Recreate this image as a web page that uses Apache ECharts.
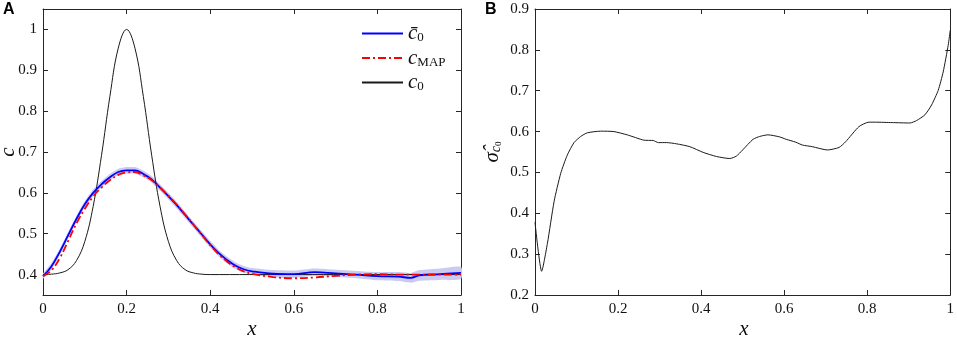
<!DOCTYPE html>
<html>
<head>
<meta charset="utf-8">
<script src="https://cdn.jsdelivr.net/npm/echarts@6/dist/echarts.min.js"></script>
<style>
  html, body {margin: 0; padding: 0; background: #fff;}
  #chart {width: 957px; height: 337px;}
</style>
</head>
<body>
<div id="chart"></div>
<script>
// panel A: shared x grid for the posterior mean, MAP and band
const xGrid = [0, 0.02, 0.04, 0.06, 0.08, 0.10, 0.12, 0.14, 0.16, 0.18, 0.20, 0.22, 0.24, 0.26, 0.28, 0.30, 0.32, 0.34, 0.36, 0.38, 0.40, 0.42, 0.44, 0.46, 0.48, 0.50, 0.55, 0.60, 0.65, 0.70, 0.75, 0.80, 0.85, 0.88, 0.90, 0.95, 1.0];
const cMean = [0.396, 0.42, 0.455, 0.496, 0.536, 0.572, 0.600, 0.621, 0.638, 0.651, 0.655, 0.655, 0.646, 0.633, 0.613, 0.592, 0.570, 0.546, 0.522, 0.498, 0.474, 0.453, 0.436, 0.422, 0.413, 0.408, 0.402, 0.401, 0.406, 0.403, 0.400, 0.396, 0.395, 0.392, 0.398, 0.401, 0.404];
const cMap = [0.396, 0.41, 0.44, 0.482, 0.525, 0.561, 0.591, 0.613, 0.631, 0.644, 0.650, 0.651, 0.643, 0.631, 0.613, 0.593, 0.571, 0.547, 0.522, 0.497, 0.472, 0.450, 0.432, 0.418, 0.408, 0.402, 0.394, 0.391, 0.393, 0.397, 0.400, 0.401, 0.400, 0.400, 0.400, 0.400, 0.400];
const bandLo = [0.390, 0.412, 0.447, 0.488, 0.528, 0.564, 0.592, 0.613, 0.630, 0.643, 0.647, 0.647, 0.638, 0.625, 0.605, 0.584, 0.562, 0.538, 0.514, 0.490, 0.466, 0.445, 0.428, 0.414, 0.405, 0.400, 0.393, 0.392, 0.397, 0.394, 0.391, 0.386, 0.384, 0.380, 0.385, 0.387, 0.389];
const bandHi = [0.402, 0.428, 0.463, 0.504, 0.544, 0.580, 0.608, 0.629, 0.646, 0.659, 0.663, 0.663, 0.654, 0.641, 0.621, 0.600, 0.578, 0.554, 0.530, 0.506, 0.482, 0.461, 0.444, 0.430, 0.421, 0.416, 0.411, 0.410, 0.415, 0.412, 0.409, 0.406, 0.406, 0.404, 0.411, 0.415, 0.419];

// panel A: true initial condition
const c0X = [0, 0.02, 0.04, 0.06, 0.08, 0.10, 0.12, 0.14, 0.16, 0.18, 0.20, 0.22, 0.24, 0.26, 0.28, 0.30, 0.32, 0.34, 0.36, 0.38, 0.40, 1.0];
const c0Y = [0.400, 0.401, 0.404, 0.412, 0.434, 0.481, 0.567, 0.692, 0.836, 0.954, 1.0, 0.954, 0.836, 0.692, 0.567, 0.481, 0.434, 0.412, 0.404, 0.401, 0.400, 0.400];

// panel B: posterior std
const sigmaX = [0, 0.016, 0.03, 0.046, 0.062, 0.078, 0.094, 0.11, 0.126, 0.158, 0.19, 0.222, 0.262, 0.285, 0.297, 0.317, 0.341, 0.373, 0.405, 0.437, 0.469, 0.485, 0.5, 0.525, 0.541, 0.561, 0.589, 0.605, 0.628, 0.644, 0.668, 0.704, 0.732, 0.748, 0.78, 0.804, 0.82, 0.86, 0.903, 0.919, 0.939, 0.955, 0.971, 0.983, 0.995, 1.0];
const sigmaY = [0.378, 0.258, 0.327, 0.429, 0.498, 0.543, 0.573, 0.588, 0.597, 0.601, 0.600, 0.592, 0.579, 0.578, 0.573, 0.573, 0.570, 0.563, 0.549, 0.539, 0.534, 0.540, 0.555, 0.581, 0.588, 0.592, 0.587, 0.581, 0.574, 0.567, 0.563, 0.555, 0.561, 0.575, 0.612, 0.623, 0.623, 0.622, 0.621, 0.627, 0.641, 0.665, 0.701, 0.746, 0.811, 0.848];

const zip = (xs, ys) => xs.map((x, i) => [x, ys[i]]);
const serif = "'Liberation Serif', serif";
const ink = '#262626';
const fmt = v => String(Math.round(v * 10) / 10);

function xAx(grid, pos) {
  return {
    type: 'value', gridIndex: grid, position: pos, min: 0, max: 1, interval: 0.2,
    axisLine: {show: true, onZero: false, lineStyle: {color: ink, width: 1}},
    axisTick: {show: true, inside: true, length: 5, lineStyle: {color: ink}},
    axisLabel: {show: pos === 'bottom', margin: 7, fontFamily: serif, fontSize: 15, color: '#111', formatter: fmt},
    splitLine: {show: false}
  };
}

function yAx(grid, pos, lo, hi, extra) {
  return Object.assign({
    type: 'value', gridIndex: grid, position: pos, min: lo, max: hi,
    axisLine: {show: true, onZero: false, lineStyle: {color: ink, width: 1}},
    axisTick: {show: true, inside: true, length: 5, lineStyle: {color: ink}},
    axisLabel: {show: pos === 'left', margin: 6, fontFamily: serif, fontSize: 15, color: '#111',
      showMinLabel: lo !== 0.35, showMaxLabel: hi !== 1.05, formatter: fmt},
    splitLine: {show: false}
  }, extra);
}

const legendRich = {
  i: {fontFamily: serif, fontStyle: 'italic', fontSize: 21, lineHeight: 22, color: '#111'},
  s: {fontFamily: serif, fontSize: 13, lineHeight: 22, verticalAlign: 'bottom', padding: [8, 0, 0, 0], color: '#111'}
};
const legendText = {
  'c0bar': '{i|c\u0304}{s|0}',
  'cMAP': '{i|c}{s|MAP}',
  'c0': '{i|c}{s|0}'
};

// posterior band drawn as one polygon through the axis scales
function renderBand(params, api) {
  const top = xGrid.map((x, i) => api.coord([x, bandHi[i]]));
  const bottom = xGrid.map((x, i) => api.coord([x, bandLo[i]])).reverse();
  return {
    type: 'polygon',
    shape: {points: top.concat(bottom), smooth: 0.2},
    style: {fill: '#cbcbf1'}
  };
}

const chart = echarts.init(document.getElementById('chart'));
chart.setOption({
  animation: false,
  grid: [
    {left: 43, top: 9, width: 418, height: 286},
    {left: 535, top: 9, width: 418, height: 286}
  ],
  xAxis: [xAx(0, 'bottom'), xAx(0, 'top'), xAx(1, 'bottom'), xAx(1, 'top')],
  yAxis: [
    yAx(0, 'left', 0.35, 1.05, {splitNumber: 7}),
    yAx(0, 'right', 0.35, 1.05, {splitNumber: 7}),
    yAx(1, 'left', 0.2, 0.9, {interval: 0.1}),
    yAx(1, 'right', 0.2, 0.9, {interval: 0.1})
  ],
  legend: {
    data: ['c0bar', 'cMAP', 'c0'],
    orient: 'vertical', left: 356, top: 18, itemWidth: 41, itemHeight: 14, itemGap: 3,
    itemStyle: {opacity: 0},
    formatter: n => legendText[n],
    textStyle: {rich: legendRich},
    selectedMode: false
  },
  graphic: [
    {type: 'text', left: 3, top: 2, style: {text: 'A', font: 'bold 16px "Liberation Sans", Arial, sans-serif', fill: '#000'}},
    {type: 'text', left: 485, top: 2, style: {text: 'B', font: 'bold 16px "Liberation Sans", Arial, sans-serif', fill: '#000'}},
    {type: 'text', x: 252, y: 329, style: {text: 'x', font: 'italic 21px ' + serif, fill: '#111', align: 'center', verticalAlign: 'middle'}},
    {type: 'text', x: 744, y: 329, style: {text: 'x', font: 'italic 21px ' + serif, fill: '#111', align: 'center', verticalAlign: 'middle'}},
    {type: 'text', x: 8, y: 152, rotation: Math.PI / 2, style: {text: 'c', font: 'italic 21px ' + serif, fill: '#111', align: 'center', verticalAlign: 'middle'}},
    {type: 'text', x: 492, y: 152, rotation: Math.PI / 2, style: {
      text: '{i|\u03c3\u0302}{s|c}{t|0}', align: 'center', verticalAlign: 'middle',
      rich: {
        i: {fontFamily: serif, fontStyle: 'italic', fontSize: 21, lineHeight: 22, fill: '#111'},
        s: {fontFamily: serif, fontStyle: 'italic', fontSize: 14, lineHeight: 22, verticalAlign: 'bottom', padding: [7, 0, 0, 0], fill: '#111'},
        t: {fontFamily: serif, fontSize: 9, lineHeight: 22, verticalAlign: 'bottom', padding: [10, 0, 0, 0], fill: '#111'}
      }
    }}
  ],
  series: [
    {name: 'band', type: 'custom', xAxisIndex: 0, yAxisIndex: 0, silent: true, z: 1,
      renderItem: renderBand, data: [[0, bandLo[0]]]},
    {name: 'c0', type: 'line', xAxisIndex: 0, yAxisIndex: 0, symbol: 'none', smooth: 0.4,
      color: '#1a1a1a', lineStyle: {color: '#1a1a1a', width: 1}, data: zip(c0X, c0Y)},
    {name: 'c0bar', type: 'line', xAxisIndex: 0, yAxisIndex: 0, symbol: 'none', smooth: 0.4,
      color: '#0000ff', lineStyle: {color: '#0000ff', width: 1.8}, data: zip(xGrid, cMean)},
    {name: 'cMAP', type: 'line', xAxisIndex: 0, yAxisIndex: 0, symbol: 'none', smooth: 0.4,
      color: '#ff0000', lineStyle: {color: '#ff0000', width: 1.8, type: [8, 3, 2, 3]}, data: zip(xGrid, cMap)},
    {name: 'sigma', type: 'line', xAxisIndex: 2, yAxisIndex: 2, symbol: 'none', smooth: 0.2,
      lineStyle: {color: '#1a1a1a', width: 1}, data: zip(sigmaX, sigmaY)}
  ]
});
</script>
</body>
</html>
